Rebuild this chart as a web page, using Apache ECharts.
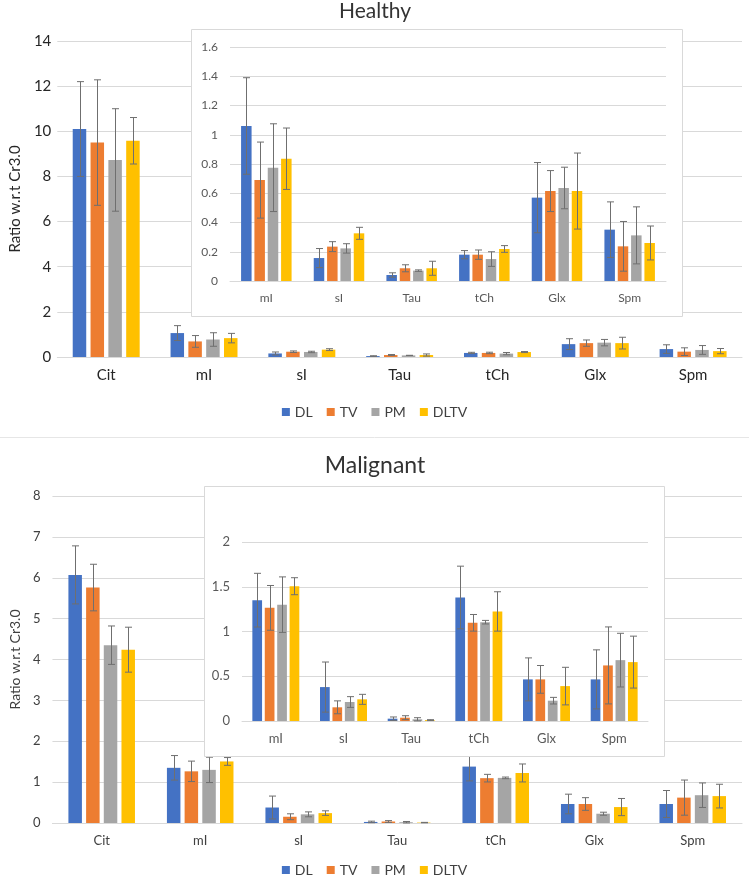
<!DOCTYPE html>
<html lang="en">
<head>
    <meta charset="UTF-8">
    <title>Healthy / Malignant</title>
    <script src="https://cdn.jsdelivr.net/npm/echarts@6/dist/echarts.min.js"></script>
    <style>
        html, body { margin: 0; padding: 0; background: #fff; }
        #main { width: 749px; height: 876px; }
    </style>
</head>
<body>
    <div id="main"></div>
    <script>
        var cats = ['Cit', 'mI', 'sI', 'Tau', 'tCh', 'Glx', 'Spm'];
        var groups = ['DL', 'TV', 'PM', 'DLTV'];
        var colors = ['#4472C4', '#ED7D31', '#A5A5A5', '#FFC000'];

        // Healthy: mean and error, one value per category
        var healthyDL = [10.1, 1.06, 0.157, 0.041, 0.18, 0.57, 0.351];
        var healthyTV = [9.5, 0.69, 0.235, 0.087, 0.18, 0.615, 0.237];
        var healthyPM = [8.73, 0.775, 0.223, 0.071, 0.15, 0.636, 0.312];
        var healthyDLTV = [9.58, 0.836, 0.326, 0.087, 0.219, 0.615, 0.26];
        var healthyDLErr = [2.1, 0.33, 0.065, 0.015, 0.028, 0.24, 0.19];
        var healthyTVErr = [2.78, 0.26, 0.034, 0.024, 0.032, 0.14, 0.17];
        var healthyPMErr = [2.27, 0.3, 0.032, 0.005, 0.05, 0.142, 0.195];
        var healthyDLTVErr = [1.03, 0.21, 0.041, 0.048, 0.023, 0.26, 0.116];

        // Malignant
        var malignantDL = [6.07, 1.35, 0.379, 0.026, 1.38, 0.465, 0.465];
        var malignantTV = [5.76, 1.264, 0.153, 0.037, 1.097, 0.465, 0.621];
        var malignantPM = [4.35, 1.3, 0.212, 0.019, 1.104, 0.227, 0.68];
        var malignantDLTV = [4.24, 1.506, 0.242, 0.01, 1.224, 0.39, 0.658];
        var malignantDLErr = [0.71, 0.3, 0.28, 0.019, 0.35, 0.24, 0.33];
        var malignantTVErr = [0.57, 0.25, 0.072, 0.022, 0.093, 0.155, 0.43];
        var malignantPMErr = [0.47, 0.31, 0.06, 0.018, 0.02, 0.037, 0.3];
        var malignantDLTVErr = [0.55, 0.095, 0.056, 0.005, 0.22, 0.21, 0.29];

        var healthyMeans = [healthyDL, healthyTV, healthyPM, healthyDLTV];
        var healthyErrs = [healthyDLErr, healthyTVErr, healthyPMErr, healthyDLTVErr];
        var malignantMeans = [malignantDL, malignantTV, malignantPM, malignantDLTV];
        var malignantErrs = [malignantDLErr, malignantTVErr, malignantPMErr, malignantDLTVErr];

        var font = 'Lato, "Open Sans", sans-serif';
        var grid = [], xAxis = [], yAxis = [], series = [];

        function errRender(offset, cap) {
            return function (params, api) {
                var c = api.value(0);
                var lo = api.coord([c, api.value(1)]);
                var hi = api.coord([c, api.value(2)]);
                var x = Math.round(lo[0] + offset) + 0.5;
                var st = { stroke: '#6f6f6f', lineWidth: 1 };
                return {
                    type: 'group',
                    children: [
                        { type: 'line', shape: { x1: x, y1: lo[1], x2: x, y2: hi[1] }, style: st },
                        { type: 'line', shape: { x1: x - cap, y1: hi[1], x2: x + cap, y2: hi[1] }, style: st },
                        { type: 'line', shape: { x1: x - cap, y1: lo[1], x2: x + cap, y2: lo[1] }, style: st }
                    ]
                };
            };
        }

        // c.from: first category index used (0 = with Cit, 1 = inset without Cit)
        function addChart(c) {
            var gi = grid.length;
            grid.push({ left: c.left, right: c.right, top: c.top, bottom: c.bottom });
            xAxis.push({
                type: 'category', gridIndex: gi, data: cats.slice(c.from), z: c.z,
                axisTick: { show: false },
                axisLine: { lineStyle: { color: '#d9d9d9' } },
                axisLabel: { color: c.catColor, fontSize: c.catSize, margin: c.catMargin, fontFamily: font, interval: 0 }
            });
            yAxis.push({
                type: 'value', gridIndex: gi, min: 0, max: c.max, interval: c.step, z: c.z,
                axisLine: { show: false }, axisTick: { show: false },
                splitLine: { lineStyle: { color: '#d9d9d9' } },
                axisLabel: { color: c.labColor, fontSize: c.labSize, margin: c.labMargin, fontFamily: font },
                name: c.yName || '', nameLocation: 'middle', nameGap: c.nameGap || 0,
                nameTextStyle: { color: c.catColor, fontSize: c.nameSize || 14, fontFamily: font }
            });
            for (var s = 0; s < 4; s++) {
                var means = c.means[s].slice(c.from);
                var errs = c.errs[s].slice(c.from);
                series.push({
                    type: 'bar', name: groups[s], xAxisIndex: gi, yAxisIndex: gi,
                    data: means, barWidth: c.bw, barGap: c.gap,
                    itemStyle: { color: colors[s] }, z: c.z + 1, silent: true
                });
                var ed = [];
                for (var i = 0; i < means.length; i++) {
                    ed.push([i, means[i] - errs[i], means[i] + errs[i]]);
                }
                series.push({
                    type: 'custom', name: groups[s] + ' error', xAxisIndex: gi, yAxisIndex: gi,
                    data: ed, encode: { x: 0, y: [1, 2] }, z: c.z + 2, silent: true,
                    renderItem: errRender((s - 1.5) * c.step2, 3.5)
                });
            }
        }

        // Healthy main
        addChart({
            from: 0, means: healthyMeans, errs: healthyErrs, z: 0,
            left: 51, right: 7, top: 41, bottom: 519, max: 14, step: 2,
            bw: 13.5, gap: '32%', step2: 17.8,
            catColor: '#262626', catSize: 15, catMargin: 11,
            labColor: '#262626', labSize: 15, labMargin: 6,
            yName: 'Ratio w.r.t Cr3.0', nameGap: 33, nameSize: 15
        });
        // Healthy inset
        addChart({
            from: 1, means: healthyMeans, errs: healthyErrs, z: 6,
            left: 230, right: 83, top: 47, bottom: 595, max: 1.6, step: 0.2,
            bw: 10.5, gap: '27%', step2: 13.3,
            catColor: '#595959', catSize: 12, catMargin: 11,
            labColor: '#595959', labSize: 12, labMargin: 12
        });
        // Malignant main
        addChart({
            from: 0, means: malignantMeans, errs: malignantErrs, z: 0,
            left: 45, right: 7, top: 496, bottom: 53, max: 8, step: 1,
            bw: 13.5, gap: '31%', step2: 17.7,
            catColor: '#404040', catSize: 13, catMargin: 11,
            labColor: '#404040', labSize: 13, labMargin: 12,
            yName: 'Ratio w.r.t Cr3.0', nameGap: 24, nameSize: 14
        });
        // Malignant inset
        addChart({
            from: 1, means: malignantMeans, errs: malignantErrs, z: 6,
            left: 242, right: 101, top: 542, bottom: 155, max: 2, step: 0.5,
            bw: 9.7, gap: '28%', step2: 12.4,
            catColor: '#595959', catSize: 13, catMargin: 11,
            labColor: '#595959', labSize: 13, labMargin: 12
        });

        var chart = echarts.init(document.getElementById('main'));
        chart.setOption({
            animation: false,
            title: [
                { text: 'Healthy', left: 370, textAlign: 'center', top: -4, textStyle: { fontSize: 21, fontWeight: 'normal', color: '#333', fontFamily: font } },
                { text: 'Malignant', left: 370, textAlign: 'center', top: 449, textStyle: { fontSize: 23, fontWeight: 'normal', color: '#333', fontFamily: font } }
            ],
            legend: [
                {
                    data: groups, top: 400, left: 'center', icon: 'rect', itemWidth: 8, itemHeight: 8, itemGap: 14,
                    textStyle: { fontSize: 14, color: '#404040', fontFamily: font }, selectedMode: false
                },
                {
                    data: groups, top: 858, left: 'center', icon: 'rect', itemWidth: 8, itemHeight: 8, itemGap: 14,
                    textStyle: { fontSize: 14, color: '#404040', fontFamily: font }, selectedMode: false
                }
            ],
            graphic: [
                { type: 'line', z: 1, shape: { x1: 0, y1: 437.5, x2: 749, y2: 437.5 }, style: { stroke: '#e6e6e6', lineWidth: 1 } },
                { type: 'rect', z: 5, shape: { x: 191.5, y: 29.5, width: 491, height: 287 }, style: { fill: '#fff', stroke: '#d9d9d9', lineWidth: 1 } },
                { type: 'rect', z: 5, shape: { x: 204.5, y: 486.5, width: 460, height: 270 }, style: { fill: '#fff', stroke: '#d9d9d9', lineWidth: 1 } }
            ],
            grid: grid,
            xAxis: xAxis,
            yAxis: yAxis,
            series: series
        });
    </script>
</body>
</html>
